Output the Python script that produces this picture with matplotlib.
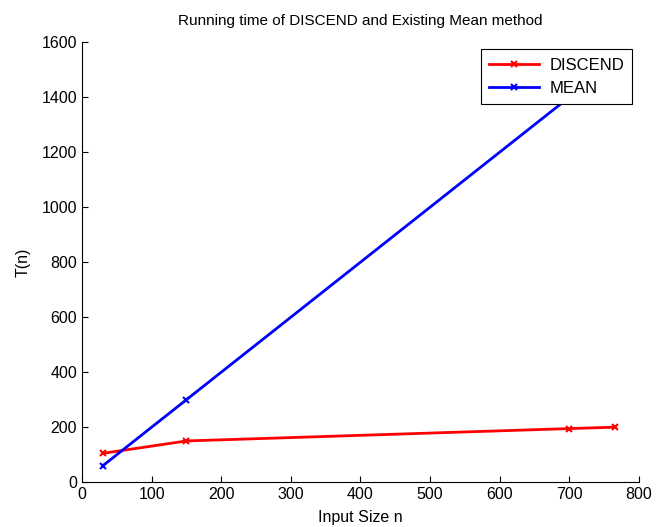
import matplotlib
matplotlib.use('Agg')
import matplotlib.pyplot as plt

plt.rcParams['font.family'] = ['Liberation Sans', 'DejaVu Sans']

# data
n_discend = [30, 150, 700, 765]
t_discend = [105, 150, 195, 200]
n_mean = [30, 150, 700, 765]
t_mean = [60, 300, 1400, 1530]

fig = plt.figure(figsize=(6.56, 5.27), dpi=100)
ax = fig.add_axes([0.125, 0.085, 0.849, 0.835])

ax.plot(n_discend, t_discend, color='r', lw=2, marker='x', ms=5, mew=1.5, label='DISCEND')
ax.plot(n_mean, t_mean, color='b', lw=2, marker='x', ms=5, mew=1.5, label='MEAN')

ax.set_xlim(0, 800)
ax.set_ylim(0, 1600)
ax.set_xticks(range(0, 801, 100))
ax.set_yticks(range(0, 1601, 200))
ax.tick_params(direction='in', length=4, labelsize=11.5, width=0.8)
for s in ['top', 'right']:
    ax.spines[s].set_visible(False)

ax.set_xlabel('Input Size n', fontsize=11.5, labelpad=6)
ax.set_ylabel('T(n)', fontsize=11.5, labelpad=8)
ax.set_title('Running time of DISCEND and Existing Mean method', fontsize=11, pad=12)

leg = ax.legend(loc='upper right', fontsize=12, fancybox=False, framealpha=1,
                edgecolor='black', borderaxespad=0.3, handlelength=3.0,
                labelspacing=0.5, borderpad=0.5, handletextpad=0.6,
                bbox_to_anchor=(0.997, 0.995))
leg.get_frame().set_linewidth(0.8)

fig.savefig('out.png', dpi=100)
